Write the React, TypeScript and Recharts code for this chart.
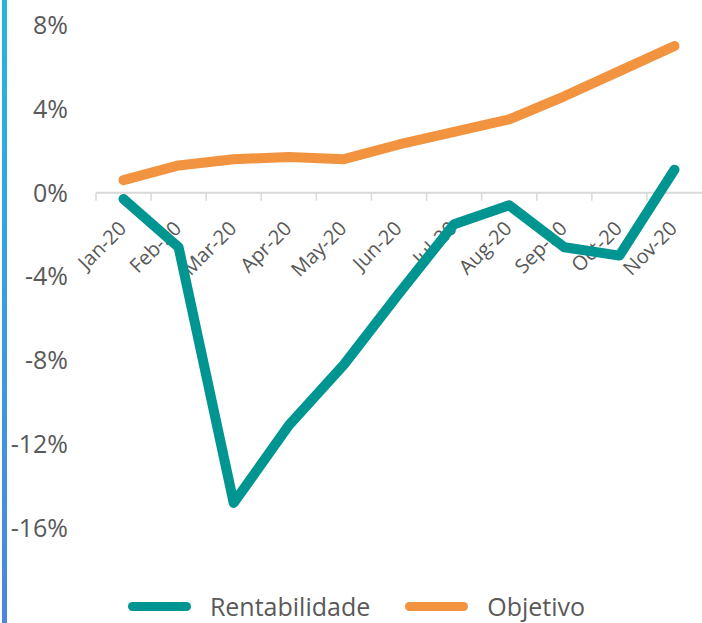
import React from 'react';
import {
  LineChart,
  Line,
  XAxis,
  YAxis,
  Legend,
  ReferenceLine,
} from 'recharts';

// datos
const months = ['Jan-20', 'Feb-20', 'Mar-20', 'Apr-20', 'May-20', 'Jun-20', 'Jul-20', 'Aug-20', 'Sep-20', 'Oct-20', 'Nov-20'];
const rentabilidade = [-0.3, -2.6, -14.8, -11.1, -8.2, -4.8, -1.5, -0.6, -2.6, -3.0, 1.1];
const objetivo = [0.6, 1.3, 1.6, 1.7, 1.6, 2.3, 2.9, 3.5, 4.6, 5.8, 7.0];
const yTicks = [-16, -12, -8, -4, 0, 4, 8];

const data = months.map((m, i) => ({
  month: m,
  Rentabilidade: rentabilidade[i],
  Objetivo: objetivo[i],
}));

const TEAL = '#009591';
const ORANGE = '#F29340';
const GREY_TEXT = '#595959';
const FONT = '"Open Sans", sans-serif';

// eje de categorias dibujado sobre la linea del 0
const ZeroAxis = (props: any) => {
  const vb = props.viewBox;
  if (!vb) return null;
  const step = vb.width / months.length;
  return (
    <g>
      {months.map((m, i) => (
        <line
          key={'t' + i}
          x1={vb.x + i * step}
          x2={vb.x + i * step}
          y1={vb.y}
          y2={vb.y + 8}
          stroke="#d9d9d9"
          strokeWidth={1.5}
        />
      ))}
      {months.map((m, i) => {
        const cx = vb.x + (i + 0.5) * step + 4;
        const cy = vb.y + 37;
        return (
          <text
            key={'l' + i}
            x={cx}
            y={cy}
            textAnchor="end"
            fontSize={20}
            fontFamily={FONT}
            fill={GREY_TEXT}
            transform={`rotate(-45 ${cx} ${cy})`}
          >
            {m}
          </text>
        );
      })}
    </g>
  );
};

const LegendContent = () => (
  <div
    style={{
      display: 'flex',
      justifyContent: 'center',
      alignItems: 'center',
      height: 30,
      fontFamily: FONT,
      fontSize: 25,
      color: GREY_TEXT,
      paddingLeft: 30,
    }}
  >
    {[
      { name: 'Rentabilidade', color: TEAL },
      { name: 'Objetivo', color: ORANGE },
    ].map((it) => (
      <div key={it.name} style={{ display: 'flex', alignItems: 'center', marginRight: 35 }}>
        <span
          style={{
            display: 'inline-block',
            width: 63,
            height: 9,
            borderRadius: 5,
            background: it.color,
            marginRight: 19,
          }}
        />
        <span>{it.name}</span>
      </div>
    ))}
  </div>
);

export default function App() {
  return (
    <div style={{ position: 'fixed', left: 0, top: 0, width: 702, height: 623, background: '#fff' }}>
      <div
        style={{
          position: 'absolute',
          left: 2,
          top: 0,
          width: 5,
          height: 623,
          background: 'linear-gradient(#27b5e0, #4b86da)',
        }}
      />
      <LineChart
        width={702}
        height={623}
        data={data}
        margin={{ top: 25, right: 0, left: 16, bottom: 2 }}
      >
        <XAxis dataKey="month" hide padding={{ left: 27.5, right: 27.5 }} />
        <YAxis
          domain={[-19, 8]}
          ticks={yTicks}
          tickFormatter={(v: number) => `${v}%`}
          axisLine={false}
          tickLine={false}
          width={80}
          tickMargin={22}
          tick={{ fill: GREY_TEXT, fontSize: 25, fontFamily: FONT }}
          interval={0}
        />
        <ReferenceLine y={0} stroke="#d9d9d9" strokeWidth={2} label={<ZeroAxis />} />
        <Legend verticalAlign="bottom" content={<LegendContent />} wrapperStyle={{ height: 30 }} />
        <Line
          type="linear"
          dataKey="Rentabilidade"
          stroke={TEAL}
          strokeWidth={10}
          dot={false}
          strokeLinecap="round"
          strokeLinejoin="round"
          isAnimationActive={false}
        />
        <Line
          type="linear"
          dataKey="Objetivo"
          stroke={ORANGE}
          strokeWidth={10}
          dot={false}
          strokeLinecap="round"
          strokeLinejoin="round"
          isAnimationActive={false}
        />
      </LineChart>
    </div>
  );
}
